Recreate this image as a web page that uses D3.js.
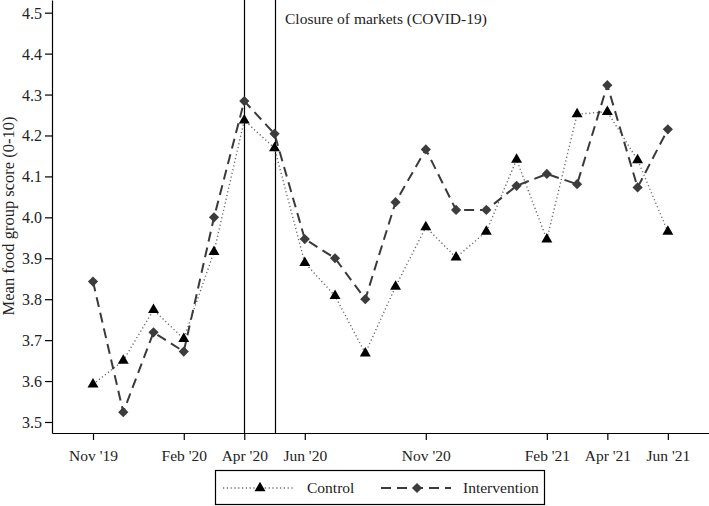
<!DOCTYPE html>
<html>
<head>
<meta charset="utf-8">
<script src="https://cdn.jsdelivr.net/npm/d3@7"></script>
<style>
  html, body { margin: 0; padding: 0; background: #fff; }
  svg { display: block; font-family: "Liberation Serif", "Times New Roman", serif; }
</style>
</head>
<body>
<svg id="chart" width="709" height="506"></svg>
<script>
// ---- data ----
const rounds = d3.range(20); // survey rounds, Nov '19 .. Jun '21 (monthly)
const tickIndex = [0, 3, 5, 7, 11, 15, 17, 19];
const tickLabels = ["Nov '19", "Feb '20", "Apr '20", "Jun '20", "Nov '20", "Feb '21", "Apr '21", "Jun '21"];
const control = [3.592, 3.650, 3.774, 3.703, 3.916, 4.237, 4.169, 3.889, 3.808, 3.668,
                 3.831, 3.976, 3.902, 3.965, 4.141, 3.946, 4.252, 4.258, 4.140, 3.965];
const intervention = [3.843, 3.524, 3.719, 3.672, 4.000, 4.284, 4.204, 3.947, 3.900, 3.800,
                      4.037, 4.166, 4.018, 4.018, 4.077, 4.106, 4.081, 4.323, 4.073, 4.215];
const yTicks = [3.5, 3.6, 3.7, 3.8, 3.9, 4.0, 4.1, 4.2, 4.3, 4.4, 4.5];
const closureLines = [5, 6];
const annotation = "Closure of markets (COVID-19)";
const seriesNames = ["Control", "Intervention"];

// ---- layout ----
const svg = d3.select("#chart");
const plotLeft = 52, plotRight = 709, plotTop = 0, plotBottom = 433;

const x = d3.scaleLinear().domain([-1.355, 20.36]).range([plotLeft, plotRight]);
const y = d3.scaleLinear().domain([3.4731, 4.531]).range([plotBottom, plotTop]);

const series = [
  { name: seriesNames[0], values: control, dash: "1.2,2.6", stroke: "#6a6a6a", width: 1.4,
    symbol: d3.symbolTriangle, size: 52, fill: "#000", rot: 0 },
  { name: seriesNames[1], values: intervention, dash: "10,6", stroke: "#3a3a3a", width: 2,
    symbol: d3.symbolSquare, size: 52, fill: "#3c3c3c", rot: 45 }
];

// closure lines
svg.selectAll("line.closure").data(closureLines).join("line")
  .attr("class", "closure")
  .attr("x1", d => Math.round(x(d)) + 0.5).attr("x2", d => Math.round(x(d)) + 0.5)
  .attr("y1", plotTop).attr("y2", plotBottom)
  .attr("stroke", "#000").attr("stroke-width", 1.2);

svg.append("text")
  .attr("x", 285).attr("y", 24)
  .attr("font-size", 15.5).attr("fill", "#222")
  .text(annotation);

// axes
const xAxis = d3.axisBottom(x).tickValues(tickIndex)
  .tickFormat((d, i) => tickLabels[i]).tickSize(7).tickSizeOuter(0);
const gx = svg.append("g").attr("transform", `translate(0,${plotBottom})`).call(xAxis);
gx.select(".domain").attr("stroke", "#000").attr("stroke-width", 1.2);
gx.selectAll(".tick line").attr("stroke", "#000").attr("stroke-width", 1.2);
gx.selectAll(".tick text").attr("y", 28).attr("dy", 0)
  .attr("font-size", 15.5).attr("font-family", "Liberation Serif, serif").attr("fill", "#222");

const yAxis = d3.axisLeft(y).tickValues(yTicks).tickFormat(d3.format(".1f"))
  .tickSize(7).tickSizeOuter(0);
const gy = svg.append("g").attr("transform", `translate(${plotLeft},0)`).call(yAxis);
gy.select(".domain").attr("stroke", "#000").attr("stroke-width", 1.2);
gy.selectAll(".tick line").attr("stroke", "#000").attr("stroke-width", 1.2);
gy.selectAll(".tick text").attr("x", -10).attr("dy", "0.34em")
  .attr("font-size", 16).attr("font-family", "Liberation Serif, serif").attr("fill", "#222");

svg.append("text")
  .attr("transform", "translate(13.5,216) rotate(-90)")
  .attr("text-anchor", "middle")
  .attr("font-size", 16.5).attr("fill", "#222")
  .text("Mean food group score (0-10)");

// lines & markers
const line = d3.line().x((d, i) => x(rounds[i])).y(d => y(d));
series.forEach(s => {
  svg.append("path").datum(s.values)
    .attr("d", line).attr("fill", "none")
    .attr("stroke", s.stroke).attr("stroke-width", s.width)
    .attr("stroke-dasharray", s.dash);
});
series.forEach(s => {
  svg.selectAll(null).data(s.values).join("path")
    .attr("d", d3.symbol().type(s.symbol).size(s.size))
    .attr("transform", (d, i) => `translate(${x(rounds[i])},${y(d)}) rotate(${s.rot})`)
    .attr("fill", s.fill);
});

// legend
const lg = svg.append("g");
lg.append("rect").attr("x", 215.5).attr("y", 470.5).attr("width", 329).attr("height", 34)
  .attr("fill", "#fff").attr("stroke", "#000").attr("stroke-width", 1.2);
const legendPos = [
  { x1: 223, x2: 295, mx: 260, tx: 307 },
  { x1: 381, x2: 451, mx: 417, tx: 463 }
];
series.forEach((s, i) => {
  const p = legendPos[i];
  lg.append("line").attr("x1", p.x1).attr("x2", p.x2).attr("y1", 488).attr("y2", 488)
    .attr("stroke", s.stroke).attr("stroke-width", s.width).attr("stroke-dasharray", s.dash);
  lg.append("path").attr("d", d3.symbol().type(s.symbol).size(s.size))
    .attr("transform", `translate(${p.mx},488) rotate(${s.rot})`).attr("fill", s.fill);
  lg.append("text").attr("x", p.tx).attr("y", 493).attr("font-size", 15.5).attr("fill", "#222")
    .text(s.name);
});
</script>
</body>
</html>
